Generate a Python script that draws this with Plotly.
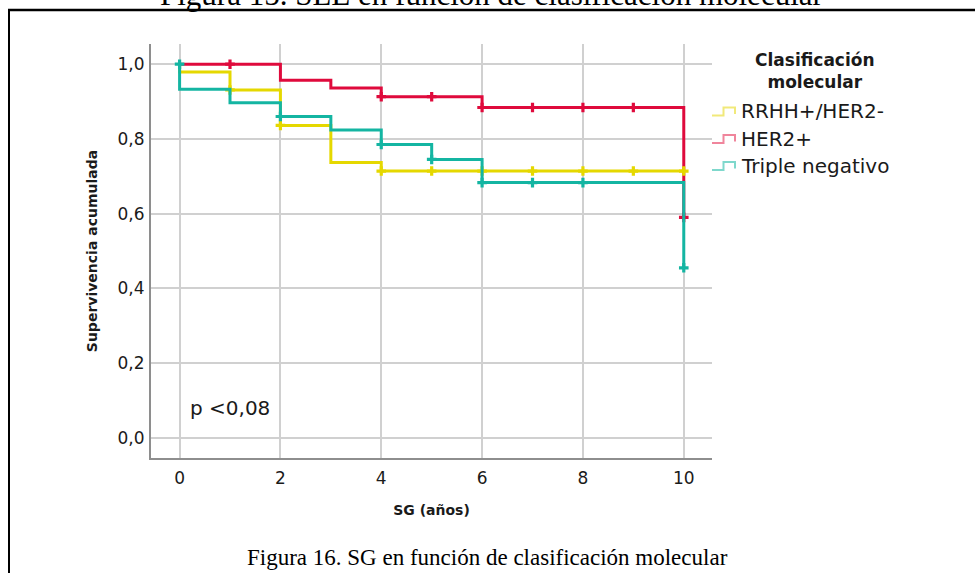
import plotly.graph_objects as go

# ---------------- data ----------------
series_names = ["RRHH+/HER2-", "HER2+", "Triple negativo"]

rrhh_t = [0, 0, 1, 2, 3, 4, 10]
rrhh_s = [1.0, 0.979, 0.931, 0.836, 0.737, 0.714, 0.714]
rrhh_cens_t = [1, 2, 4, 5, 6, 7, 8, 9, 10]
rrhh_cens_s = [0.931, 0.836, 0.714, 0.714, 0.714, 0.714, 0.714, 0.714, 0.714]

her2_t = [0, 2, 3, 4, 6, 10]
her2_s = [1.0, 0.957, 0.936, 0.913, 0.884, 0.590]
her2_cens_t = [1, 4, 5, 6, 7, 8, 9, 10]
her2_cens_s = [1.0, 0.913, 0.913, 0.884, 0.884, 0.884, 0.884, 0.590]

tn_t = [0, 0, 1, 2, 3, 4, 5, 6, 10]
tn_s = [1.0, 0.933, 0.897, 0.860, 0.824, 0.785, 0.745, 0.683, 0.455]
tn_cens_t = [0, 2, 4, 5, 6, 7, 8, 10]
tn_cens_s = [1.0, 0.860, 0.785, 0.745, 0.683, 0.683, 0.683, 0.455]

x_ticks = [0, 2, 4, 6, 8, 10]
y_ticks = [0.0, 0.2, 0.4, 0.6, 0.8, 1.0]

colors = {"RRHH+/HER2-": "#e5d800", "HER2+": "#df0a3c", "Triple negativo": "#14b5a2"}
icon_colors = {"RRHH+/HER2-": "#f1e97a", "HER2+": "#f0859c", "Triple negativo": "#7fd8cc"}

# ---------------- layout geometry ----------------
W, H = 975, 573
L, R, T, B = 151, 263, 44, 115


def px_x(px):
    return (px - L) / (W - L - R)


def px_y(py):
    return (H - B - py) / (H - T - B)


fig = go.Figure()

curves = [
    ("HER2+", her2_t, her2_s, her2_cens_t, her2_cens_s),
    ("RRHH+/HER2-", rrhh_t, rrhh_s, rrhh_cens_t, rrhh_cens_s),
    ("Triple negativo", tn_t, tn_s, tn_cens_t, tn_cens_s),
]

for name, t, s, ct, cs in curves:
    fig.add_trace(go.Scatter(
        x=t, y=s, mode="lines", name=name,
        line=dict(color=colors[name], width=3, shape="hv"),
        showlegend=False, hoverinfo="skip",
    ))
    fig.add_trace(go.Scatter(
        x=ct, y=cs, mode="markers", name=name + " censurado",
        marker=dict(symbol="cross", size=8, color=colors[name], line=dict(width=0)),
        showlegend=False, hoverinfo="skip",
    ))

font_main = "DejaVu Sans"

fig.update_layout(
    width=W, height=H,
    margin=dict(l=L, r=R, t=T, b=B, pad=0),
    paper_bgcolor="white", plot_bgcolor="white",
    separators=",.",
    showlegend=False,
    font=dict(family=font_main, color="#1a1a1a"),
)

fig.update_xaxes(
    range=[-0.567, 10.56], tickvals=x_ticks, ticktext=[str(v) for v in x_ticks],
    showline=True, linecolor="#8e8e8e", linewidth=2,
    showgrid=True, gridcolor="#d0d0d0", gridwidth=1.5,
    zeroline=False, ticks="outside", ticklen=4, tickcolor="rgba(0,0,0,0)",
    tickfont=dict(size=17, family=font_main, color="#1a1a1a"),
    title=dict(text="<b>SG (años)</b>", font=dict(size=14, family=font_main, color="#1a1a1a"), standoff=18),
    fixedrange=True,
)
fig.update_yaxes(
    range=[-0.054, 1.054], tickvals=y_ticks, tickformat=".1f",
    showline=True, linecolor="#8e8e8e", linewidth=2,
    showgrid=True, gridcolor="#d0d0d0", gridwidth=1.5,
    zeroline=False, ticks="outside", ticklen=1, tickcolor="rgba(0,0,0,0)",
    tickfont=dict(size=17, family=font_main, color="#1a1a1a"),
    title=dict(text="<b>Supervivencia acumulada</b>", font=dict(size=14, family=font_main, color="#1a1a1a"), standoff=17),
    fixedrange=True,
)

# p-value annotation
fig.add_annotation(x=0.17, y=0.08, xref="x", yref="y", text="p <0,08", showarrow=False,
                   xanchor="left", yanchor="middle", font=dict(size=20, family=font_main, color="#1a1a1a"))

# custom legend (title + step icons)
fig.add_annotation(x=px_x(815), y=px_y(71), xref="paper", yref="paper",
                   text="<b>Clasificación<br>molecular</b>", showarrow=False,
                   xanchor="center", yanchor="middle", align="center",
                   font=dict(size=17, family=font_main, color="#1a1a1a"))

row_y = [111, 138.5, 165.5]
for name, yc in zip(series_names, row_y):
    path = "M {x0},{yl} L {x1},{yl} L {x1},{yh} L {x2},{yh} L {x2},{yl2}".format(
        x0=px_x(712), x1=px_x(723.5), x2=px_x(735),
        yl=px_y(yc + 4.5), yh=px_y(yc - 3.5), yl2=px_y(yc + 3))
    fig.add_shape(type="path", path=path, xref="paper", yref="paper",
                  line=dict(color=icon_colors[name], width=2))
    fig.add_annotation(x=px_x(739), y=px_y(yc), xref="paper", yref="paper",
                       text=name, showarrow=False, xanchor="left", yanchor="middle",
                       font=dict(size=20, family=font_main, color="#1a1a1a"))

# page frame lines
fig.add_shape(type="line", xref="paper", yref="paper",
              x0=px_x(8), x1=px_x(980), y0=px_y(10), y1=px_y(10),
              line=dict(color="black", width=2.5))
fig.add_shape(type="line", xref="paper", yref="paper",
              x0=px_x(9), x1=px_x(9), y0=px_y(10), y1=px_y(580),
              line=dict(color="black", width=2))

# document captions (the upper one belongs to the previous figure and is cut by the page edge)
fig.add_annotation(x=px_x(492), y=px_y(5), xref="paper", yref="paper",
                   text="Figura 15. SLE en función de clasificación molecular", showarrow=False,
                   xanchor="center", yanchor="bottom", yshift=-9,
                   font=dict(size=31, family="Liberation Serif", color="black"))
fig.add_annotation(x=px_x(487), y=px_y(557), xref="paper", yref="paper",
                   text="Figura 16. SG en función de clasificación molecular", showarrow=False,
                   xanchor="center", yanchor="middle",
                   font=dict(size=23, family="Liberation Serif", color="black"))

fig.write_html("out.html")
